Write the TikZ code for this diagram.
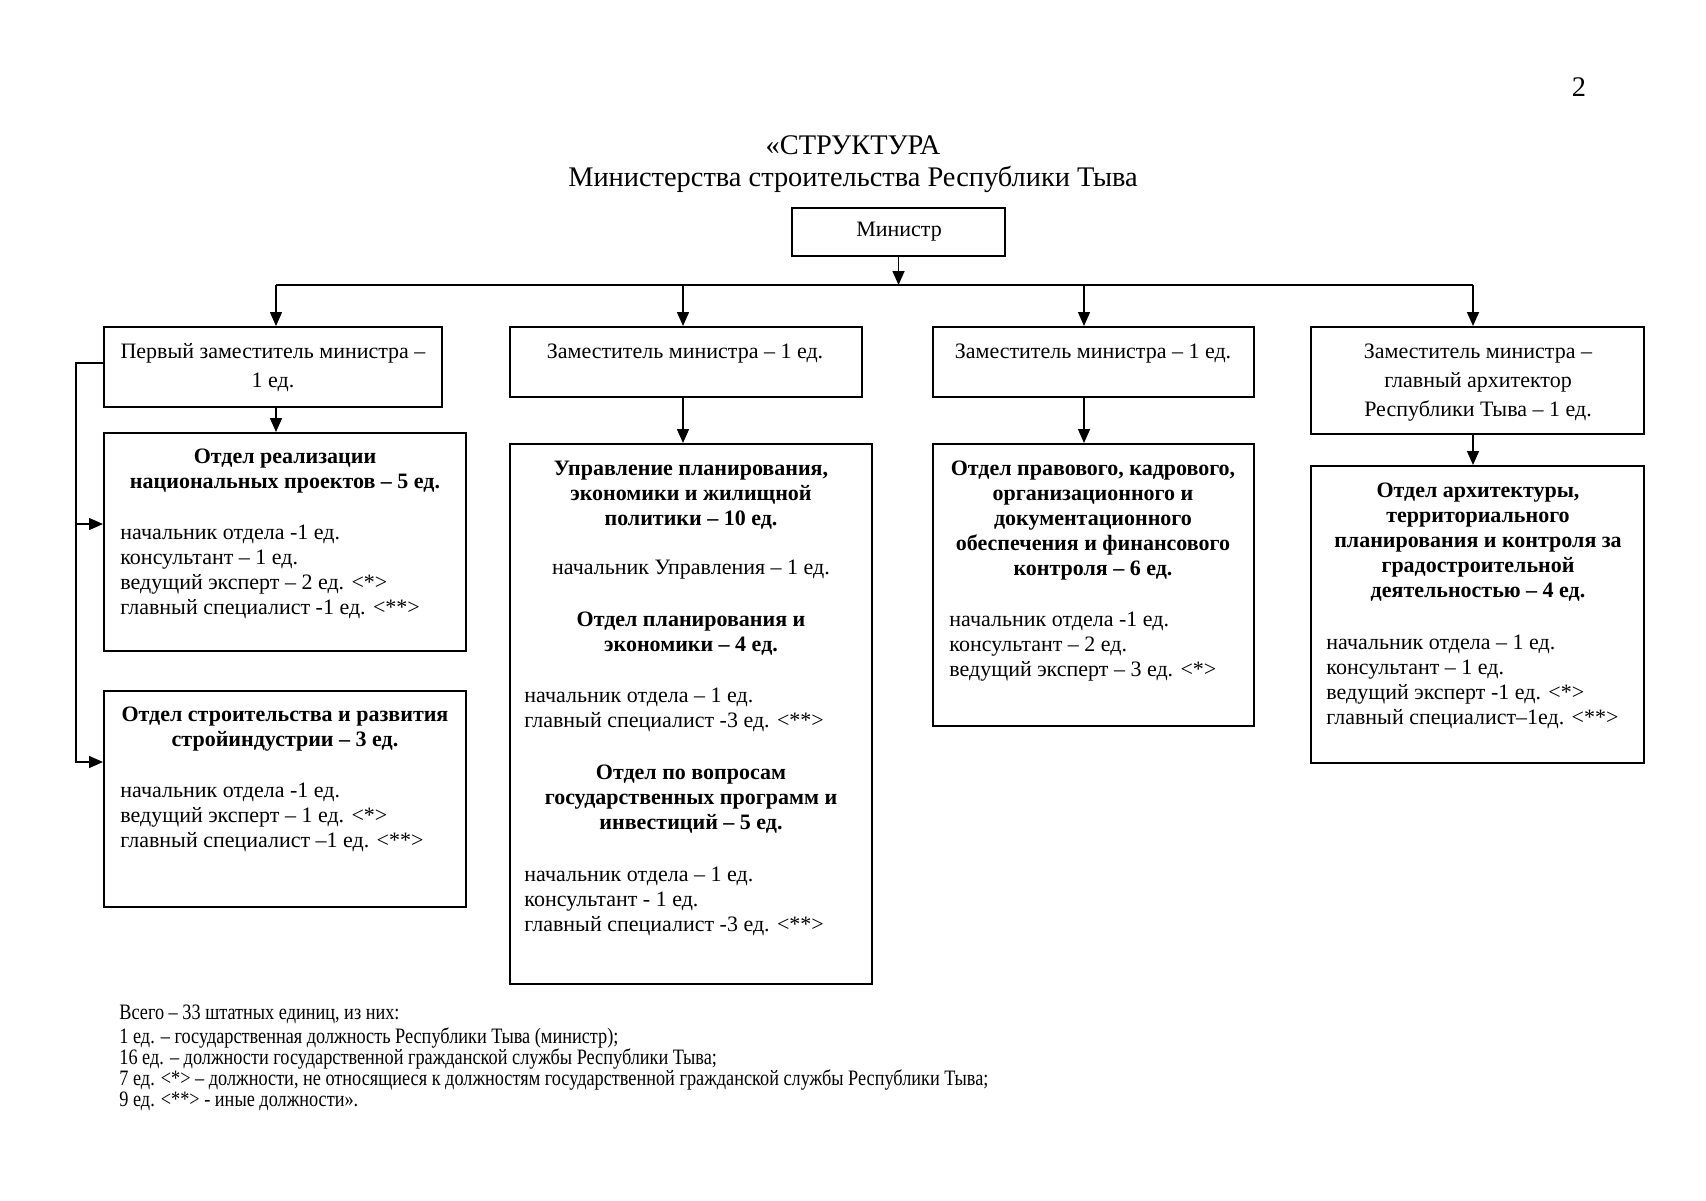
\documentclass[tikz,border=0pt]{standalone}
\usepackage{fontspec}
\setmainfont{Liberation Serif}
\newfontfamily\narrowfont{Liberation Serif}[FakeStretch=0.83]
\usetikzlibrary{arrows.meta,fit}
\tikzset{
  box/.style={draw, line width=1pt, inner sep=0pt, rectangle},
  conn/.style={line width=0.75pt},
  arr/.style={conn, -{Triangle[length=7pt,width=6pt]}},
  rowtxt/.style={inner sep=0pt, yshift=-1pt, align=center, font=\fontsize{11}{14.5}\selectfont},
  hd/.style={inner sep=0pt, yshift=-0.8pt, align=center, anchor=north, font=\fontsize{11}{12.5}\selectfont\bfseries},
  bd/.style={inner sep=0pt, yshift=-0.8pt, align=left, anchor=north west, font=\fontsize{11}{12.5}\selectfont},
  ttl/.style={inner sep=0pt, anchor=base, font=\fontsize{14.2}{16}\selectfont},
}
\begin{document}
\begin{tikzpicture}[x=0.5pt,y=-0.5pt]
\useasboundingbox (0,0) rectangle (1706,1200);
% titles
\node[ttl] (pg) at (1579,96) {2};
\node[ttl] (t1) at (853,154) {«СТРУКТУРА};
\node[ttl] (t2) at (853,186) {Министерства строительства Республики Тыва};
% boxes
\node[box, fit={(792,208) (1005,256)}] (min) {};
\node[box, fit={(104,327) (442,407)}] (b1) {};
\node[box, fit={(510,327) (862,397)}] (b2) {};
\node[box, fit={(933,327) (1254,397)}] (b3) {};
\node[box, fit={(1311,327) (1644,434)}] (b4) {};
\node[box, fit={(104,433) (466,651)}] (d1) {};
\node[box, fit={(104,691) (466,907)}] (d5) {};
\node[box, fit={(510,444) (872,984)}] (d2) {};
\node[box, fit={(933,444) (1254,726)}] (d3) {};
\node[box, fit={(1311,466) (1644,763)}] (d4) {};
% row texts
\node[rowtxt, anchor=base] (mint) at (899,234) {Министр};
\node[rowtxt, anchor=north] (b1t) at (273,335.7) {\strut Первый заместитель министра –\\1 ед.};
\node[rowtxt, anchor=base] (b2t) at (685,356) {Заместитель министра – 1 ед.};
\node[rowtxt, anchor=base] (b3t) at (1093,356) {Заместитель министра – 1 ед.};
\node[rowtxt, anchor=north] (b4t) at (1478,335.7) {\strut Заместитель министра –\\главный архитектор\\Республики Тыва – 1 ед.};
% department texts
\node[hd] (d1h) at (285,443.5) {\strut Отдел реализации\\национальных проектов – 5 ед.};
\node[bd] (d1b) at (120,519.5) {\strut начальник отдела -1 ед.\\консультант – 1 ед.\\ведущий эксперт – 2 ед. <*>\\главный специалист -1 ед. <**>};
\node[hd] (d5h) at (285,701.5) {\strut Отдел строительства и развития\\стройиндустрии – 3 ед.};
\node[bd] (d5b) at (120,777.5) {\strut начальник отдела -1 ед.\\ведущий эксперт – 1 ед. <*>\\главный специалист –1 ед. <**>};
\node[hd] (d2h1) at (691,455.5) {\strut Управление планирования,\\экономики и жилищной\\политики – 10 ед.};
\node[bd, anchor=base] (d2m) at (691,573) {начальник Управления – 1 ед.};
\node[hd] (d2h2) at (691,606.5) {\strut Отдел планирования и\\экономики – 4 ед.};
\node[bd] (d2b1) at (524,682.5) {\strut начальник отдела – 1 ед.\\главный специалист -3 ед. <**>};
\node[hd] (d2h3) at (691,759.5) {\strut Отдел по вопросам\\государственных программ и\\инвестиций – 5 ед.};
\node[bd] (d2b2) at (524,861.5) {\strut начальник отдела – 1 ед.\\консультант - 1 ед.\\главный специалист -3 ед. <**>};
\node[hd] (d3h) at (1093,455.5) {\strut Отдел правового, кадрового,\\организационного и\\документационного\\обеспечения и финансового\\контроля – 6 ед.};
\node[bd] (d3b) at (949,606.5) {\strut начальник отдела -1 ед.\\консультант – 2 ед.\\ведущий эксперт – 3 ед. <*>};
\node[hd] (d4h) at (1478,477.5) {\strut Отдел архитектуры,\\территориального\\планирования и контроля за\\градостроительной\\деятельностью – 4 ед.};
\node[bd] (d4b) at (1326,629.5) {\strut начальник отдела – 1 ед.\\консультант – 1 ед.\\ведущий эксперт -1 ед. <*>\\главный специалист–1ед. <**>};
% footnote
\node[inner sep=0pt, anchor=north west, align=left, font=\narrowfont\fontsize{11}{10.5}\selectfont] (fn) at (119,1004.5) {\strut Всего – 33 штатных единиц, из них:\\1 ед. – государственная должность Республики Тыва (министр);\\16 ед. – должности государственной гражданской службы Республики Тыва;\\7 ед. <*> – должности, не относящиеся к должностям государственной гражданской службы Республики Тыва;\\9 ед. <**> - иные должности».};
% connectors
\coordinate (bus1) at (276,285);
\coordinate (bus2) at (683,285);
\coordinate (bus3) at (1084,285);
\coordinate (bus4) at (1473,285);
\draw[arr] (min.south) -- (min.south |- bus1);
\draw[conn] (bus1) -- (bus4);
\draw[arr] (bus1) -- (bus1 |- b1.north);
\draw[arr] (bus2) -- (bus2 |- b2.north);
\draw[arr] (bus3) -- (bus3 |- b3.north);
\draw[arr] (bus4) -- (bus4 |- b4.north);
\draw[arr] (bus1 |- b1.south) -- (bus1 |- d1.north);
\draw[arr] (bus2 |- b2.south) -- (bus2 |- d2.north);
\draw[arr] (bus3 |- b3.south) -- (bus3 |- d3.north);
\draw[arr] (bus4 |- b4.south) -- (bus4 |- d4.north);
\coordinate (lk0) at (76,363);
\coordinate (lk1) at (76,524);
\coordinate (lk2) at (76,762);
\draw[arr] (b1.west |- lk0) -- (lk0) -- (lk2) -- (lk2 -| d5.west);
\draw[arr] (lk1) -- (lk1 -| d1.west);
\end{tikzpicture}
\end{document}
